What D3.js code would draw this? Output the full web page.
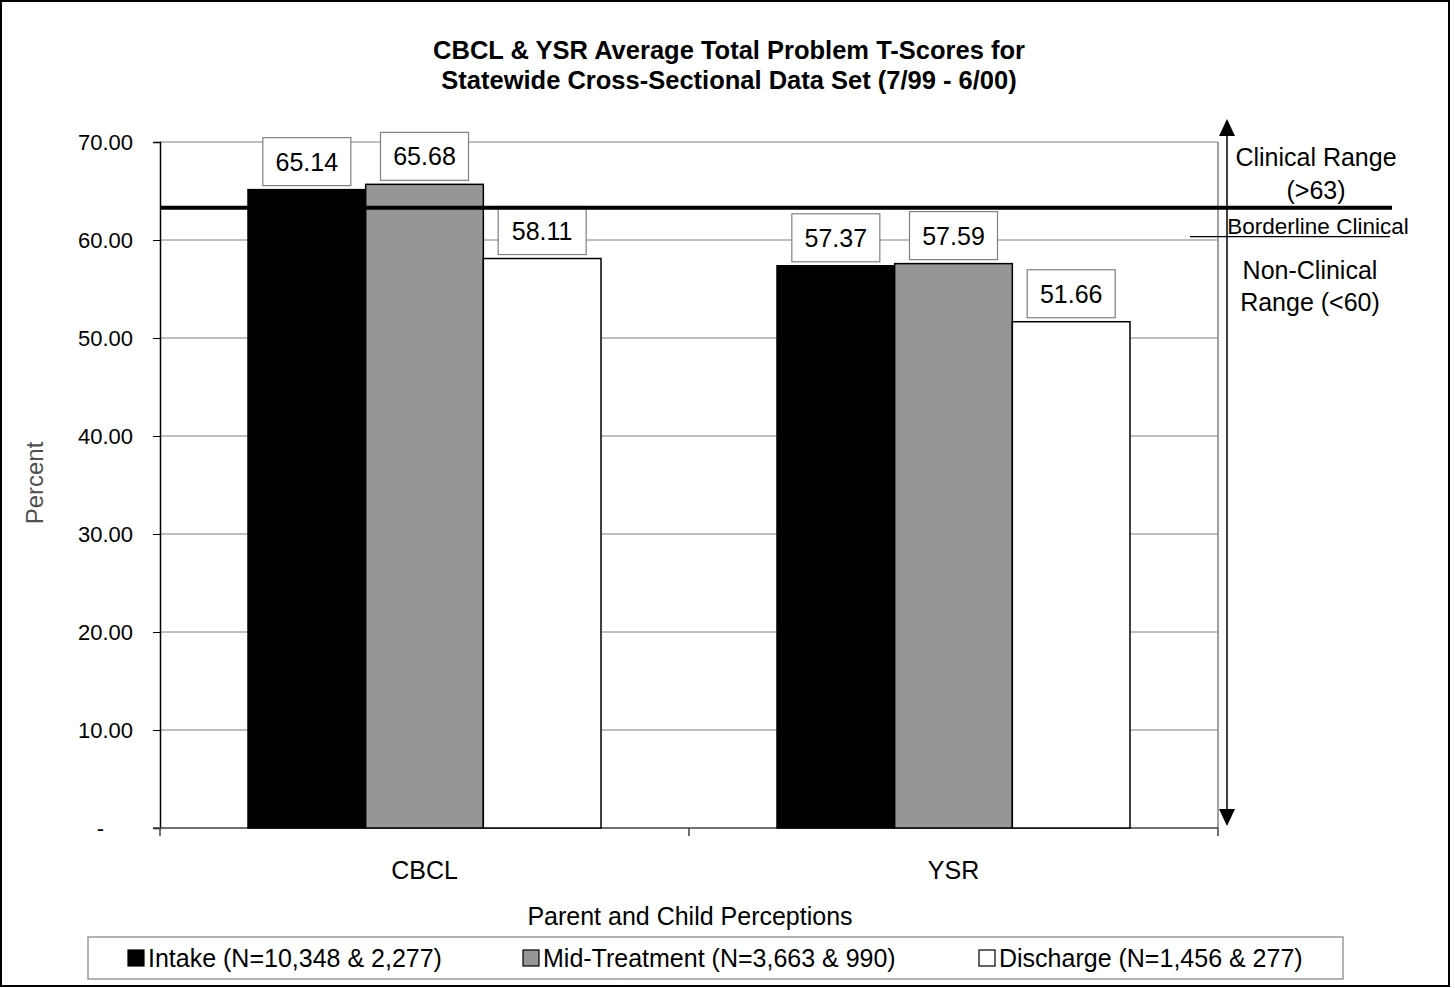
<!DOCTYPE html>
<html><head><meta charset="utf-8">
<script src="https://cdn.jsdelivr.net/npm/d3@7"></script>
<style>body{margin:0;background:#fff}svg{display:block;font-family:"Liberation Sans",Arial,sans-serif}</style>
</head><body>
<script>
const categories = ["CBCL", "YSR"];
const seriesNames = ["Intake (N=10,348 & 2,277)", "Mid-Treatment (N=3,663 & 990)", "Discharge (N=1,456 & 277)"];
const intake = [65.14, 57.37];
const midTreatment = [65.68, 57.59];
const discharge = [58.11, 51.66];
const yTicks = [0, 10, 20, 30, 40, 50, 60, 70];
const clinicalCutoff = 63.3;
const borderlineCutoff = 60.3;
const colors = ["#000000", "#969696", "#ffffff"];

const W = 1455, H = 988;
const svg = d3.select("body").append("svg").attr("width", W).attr("height", H);
svg.append("rect").attr("x", 1).attr("y", 1).attr("width", 1448).attr("height", 985).attr("fill", "#fff").attr("stroke", "#000").attr("stroke-width", 2);

const L = 160, R = 1218, T = 142, B = 828;
const y = d3.scaleLinear().domain([0, 70]).range([B, T]);
const x0 = d3.scaleBand().domain(categories).range([L, R]).paddingInner(0).paddingOuter(0);
const inner = 353 / 529;
const x1 = d3.scaleBand().domain(d3.range(3)).range([0, x0.bandwidth() * inner]);
const offset = x0.bandwidth() * (1 - inner) / 2;

// title
const title = svg.append("text").attr("text-anchor", "middle").attr("font-weight", "bold").attr("font-size", 25.5);
title.append("tspan").attr("x", 729).attr("y", 59).text("CBCL & YSR Average Total Problem T-Scores for");
title.append("tspan").attr("x", 729).attr("y", 89).text("Statewide Cross-Sectional Data Set (7/99 - 6/00)");

// gridlines
svg.append("g").selectAll("line").data(yTicks.filter(d => d > 0)).join("line")
  .attr("x1", L).attr("x2", R).attr("y1", d => y(d)).attr("y2", d => y(d))
  .attr("stroke", "#808080").attr("stroke-width", 1);
// plot border right
svg.append("line").attr("x1", R).attr("x2", R).attr("y1", T).attr("y2", B).attr("stroke", "#808080").attr("stroke-width", 1.5);

// y axis
const yAxis = d3.axisLeft(y).tickValues(yTicks).tickSize(7).tickPadding(20)
  .tickFormat(d => d === 0 ? "-" : d3.format(".2f")(d));
const gy = svg.append("g").attr("transform", `translate(${L},0)`).call(yAxis);
gy.select(".domain").attr("stroke", "#000").attr("stroke-width", 1.5);
gy.selectAll(".tick line").attr("stroke", "#000");
gy.selectAll(".tick text").attr("font-size", 22).attr("fill", "#000").attr("font-family", "Liberation Sans, Arial, sans-serif")
  .attr("x", d => d === 0 ? -56 : -27);

// x axis
const gx = svg.append("g").attr("transform", `translate(0,${B})`);
gx.append("line").attr("x1", L - 7).attr("x2", R).attr("stroke", "#404040").attr("stroke-width", 1.5);
gx.selectAll(".div").data([L, L + x0.bandwidth(), R]).join("line")
  .attr("x1", d => d).attr("x2", d => d).attr("y1", 0).attr("y2", 8).attr("stroke", "#404040").attr("stroke-width", 1.5);
gx.selectAll(".cat").data(categories).join("text")
  .attr("x", d => x0(d) + x0.bandwidth() / 2).attr("y", 51).attr("text-anchor", "middle")
  .attr("font-size", 25).text(d => d);

// bars
const series = [intake, midTreatment, discharge];
const groups = svg.append("g").selectAll("g").data(categories).join("g")
  .attr("transform", d => `translate(${x0(d) + offset},0)`);
groups.selectAll("rect").data((c, ci) => series.map((s, si) => ({si, v: s[ci]}))).join("rect")
  .attr("x", d => x1(d.si)).attr("width", x1.bandwidth())
  .attr("y", d => y(d.v)).attr("height", d => B - y(d.v))
  .attr("fill", d => colors[d.si]).attr("stroke", "#000").attr("stroke-width", 1.5);

// threshold line (clinical), drawn over the bars
svg.append("line").attr("x1", L).attr("x2", 1392).attr("y1", y(clinicalCutoff)).attr("y2", y(clinicalCutoff))
  .attr("stroke", "#000").attr("stroke-width", 4);

// labels
const lw = 88, lh = 48;
const lab = groups.selectAll("g.lab").data((c, ci) => series.map((s, si) => ({si, v: s[ci]}))).join("g").attr("class", "lab")
  .attr("transform", d => `translate(${x1(d.si) + x1.bandwidth() / 2},${y(d.v) - 4 - lh / 2})`);
lab.append("rect").attr("x", -lw / 2).attr("y", -lh / 2).attr("width", lw).attr("height", lh)
  .attr("fill", "#fff").attr("stroke", "#808080").attr("stroke-width", 1.2);
lab.append("text").attr("text-anchor", "middle").attr("dy", "0.36em").attr("font-size", 25).text(d => d3.format(".2f")(d.v));

// arrow
const ax = 1227;
svg.append("line").attr("x1", ax).attr("x2", ax).attr("y1", 132).attr("y2", 812).attr("stroke", "#000").attr("stroke-width", 1.5);
svg.append("path").attr("d", `M${ax},119 L${ax - 8},136 L${ax + 8},136 Z`).attr("fill", "#000");
svg.append("path").attr("d", `M${ax},826 L${ax - 8},809 L${ax + 8},809 Z`).attr("fill", "#000");

// borderline underline
svg.append("line").attr("x1", 1190).attr("x2", 1390).attr("y1", y(borderlineCutoff) - 0.5).attr("y2", y(borderlineCutoff) - 0.5)
  .attr("stroke", "#000").attr("stroke-width", 1.2);

const ann = svg.append("g").attr("font-size", 25).attr("text-anchor", "middle");
ann.append("text").attr("x", 1316).attr("y", 166).text("Clinical Range");
ann.append("text").attr("x", 1316).attr("y", 199).text("(>63)");
ann.append("text").attr("x", 1318).attr("y", 234).attr("font-size", 22.5).text("Borderline Clinical");
ann.append("text").attr("x", 1310).attr("y", 279).text("Non-Clinical");
ann.append("text").attr("x", 1310).attr("y", 311).text("Range (<60)");

// y label
svg.append("text").attr("transform", "translate(43,483) rotate(-90)").attr("text-anchor", "middle")
  .attr("font-size", 24).attr("fill", "#505050").text("Percent");

// x title
svg.append("text").attr("x", 690).attr("y", 925).attr("text-anchor", "middle").attr("font-size", 25).text("Parent and Child Perceptions");

// legend
svg.append("rect").attr("x", 88).attr("y", 937).attr("width", 1255).attr("height", 42)
  .attr("fill", "#fff").attr("stroke", "#808080").attr("stroke-width", 1.2);
const legX = [128, 523, 979];
const leg = svg.append("g").selectAll("g").data(seriesNames).join("g")
  .attr("transform", (d, i) => `translate(${legX[i]},950)`);
leg.append("rect").attr("width", 16).attr("height", 16).attr("fill", (d, i) => colors[i]).attr("stroke", "#000").attr("stroke-width", 1.2);
leg.append("text").attr("x", 20).attr("y", 17).attr("font-size", 25).text(d => d);
</script>
</body></html>
